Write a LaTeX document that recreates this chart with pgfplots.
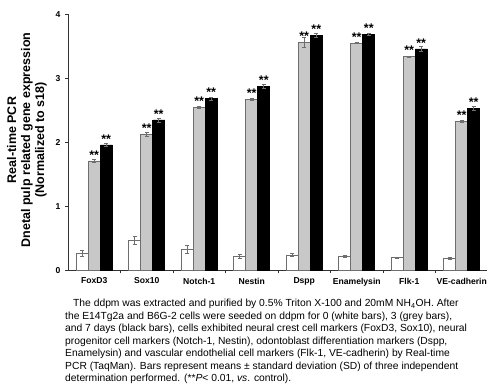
\documentclass[border=0pt]{standalone}
\usepackage{fontspec}
\setmainfont{Liberation Sans}
\usepackage{pgfplots}
\usepackage{pgfplotstable}
\pgfplotsset{compat=1.18}
\definecolor{bargrey}{RGB}{200,200,200}
\definecolor{edgegrey}{RGB}{110,110,110}
\pgfplotstableread{
x w we g ge b be
0 0.27 0.05 1.71 0.02 1.96 0.03
1 0.47 0.06 2.13 0.03 2.35 0.03
2 0.33 0.06 2.55 0.02 2.68 0.02
3 0.22 0.03 2.67 0.02 2.87 0.03
4 0.24 0.02 3.56 0.08 3.67 0.03
5 0.22 0.02 3.55 0.01 3.69 0.02
6 0.20 0.01 3.34 0.01 3.46 0.04
7 0.19 0.02 2.33 0.02 2.53 0.03
}\datatable
\begin{document}
\begin{tikzpicture}
\useasboundingbox (0pt,0pt) rectangle (487pt,386pt);
\begin{axis}[
  at={(68pt,115.7pt)}, anchor=south west,
  scale only axis, width=420pt, height=256pt,
  xmin=-0.5, xmax=7.5, ymin=0, ymax=4,
  axis x line*=bottom, axis y line*=left,
  axis line style={black!80, line width=0.6pt},
  ybar=0pt, bar width=12pt,
  xtick={0,...,7},
  xticklabels={FoxD3,Sox10,Notch-1,Nestin,Dspp,Enamelysin,Flk-1,VE-cadherin},
  minor xtick={0.5,1.5,...,7.5},
  major x tick style={draw=none},
  minor x tick style={black!80, line width=0.6pt},
  ytick={0,1,2,3,4},
  y tick style={black!80, line width=0.6pt},
  tick align=outside, major tick length=3pt, minor tick length=3pt,
  tick label style={font=\bfseries\fontsize{8.6}{10}\selectfont},
  /pgf/number format/assume math mode=true,
  xticklabel style={yshift=-1pt},
  yticklabel style={xshift=-1pt},
  clip=false,
  error bars/error bar style={edgegrey, line width=0.6pt},
  error bars/error mark options={rotate=90, mark size=2.2pt, edgegrey, line width=0.6pt},
  nodes near coords style={font=\bfseries\fontsize{12.5}{13}\selectfont, inner sep=0.5pt, yshift=1pt},
]
\addplot[fill=white, draw=edgegrey, line width=0.6pt,
  error bars/.cd, y dir=both, y explicit]
  table[x=x, y=w, y error=we] {\datatable};
\addplot[fill=bargrey, draw=edgegrey, line width=0.6pt,
  nodes near coords={**},
  error bars/.cd, y dir=both, y explicit]
  table[x=x, y=g, y error=ge] {\datatable};
\addplot[fill=black, draw=black, line width=0.6pt,
  nodes near coords={**},
  error bars/.cd, y dir=both, y explicit]
  table[x=x, y=b, y error=be] {\datatable};
\end{axis}
\node[rotate=90, align=center, font=\bfseries\fontsize{12.5}{14}\selectfont] at (27pt,246pt)
  {Real-time PCR\\Dnetal pulp related gene expression\\(Normalized to s18)};
\begin{scope}[every node/.style={anchor=base west, inner sep=0pt, font=\fontsize{10.3}{12}\selectfont}]
\node at (73pt,79.5pt) {The ddpm was extracted and purified by 0.5\% Triton X-100 and 20mM NH\textsubscript{4}OH. After};
\node at (65pt,67pt) {the E14Tg2a and B6G-2 cells were seeded on ddpm for 0 (white bars), 3 (grey bars),};
\node at (65pt,54.5pt) {and 7 days (black bars), cells exhibited neural crest cell markers (FoxD3, Sox10), neural};
\node at (65pt,42pt) {progenitor cell markers (Notch-1, Nestin), odontoblast differentiation markers (Dspp,};
\node at (65pt,29.5pt) {Enamelysin) and vascular endothelial cell markers (Flk-1, VE-cadherin) by Real-time};
\node at (65pt,17pt) {PCR (TaqMan). Bars represent means ± standard deviation (SD) of three independent};
\node at (65pt,4.5pt) {determination performed. (**\textit{P}< 0.01, \textit{vs}. control).};
\end{scope}
\end{tikzpicture}
\end{document}
